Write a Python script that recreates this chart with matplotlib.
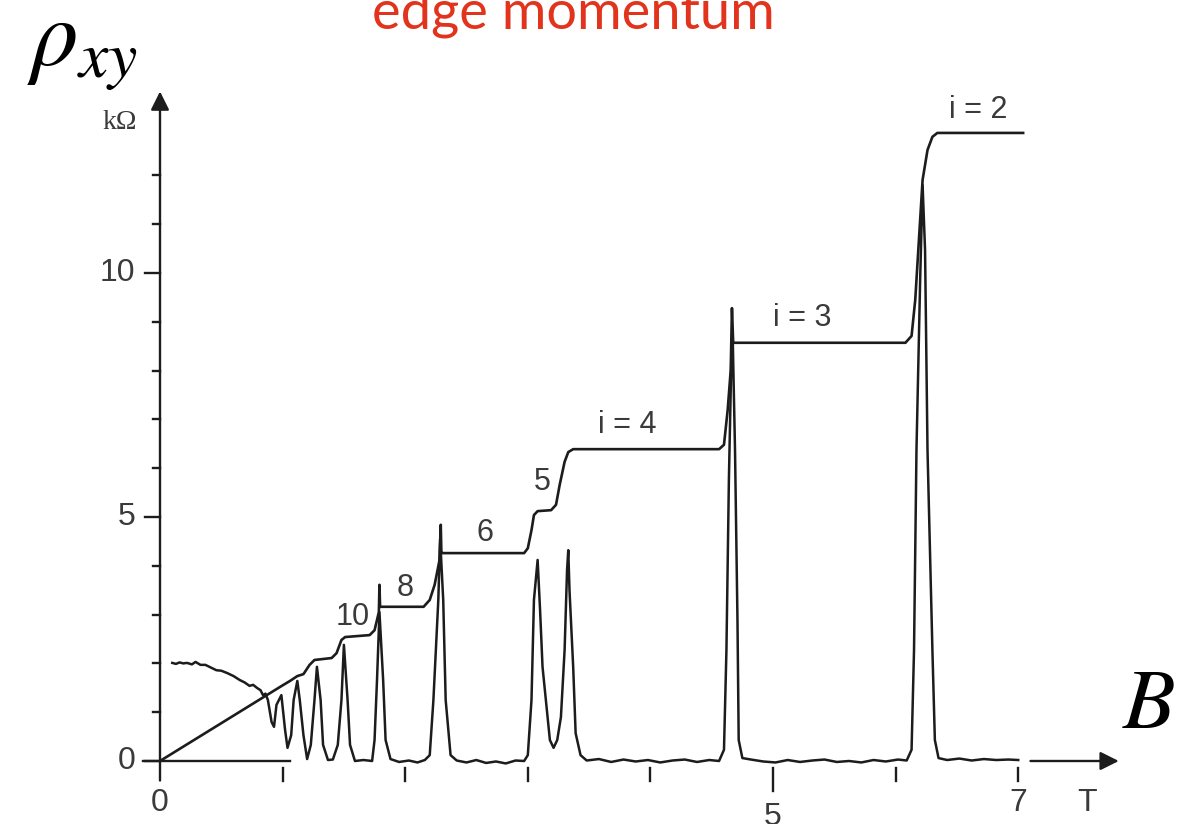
import matplotlib
matplotlib.use("Agg")
import matplotlib.pyplot as plt

# Hall resistivity rho_xy (kOhm) versus field B (T)
hall_B = [0.00, 1.00, 1.06, 1.12, 1.17, 1.22, 1.26, 1.40, 1.44, 1.48,
          1.51, 1.71, 1.75, 1.785, 1.79, 1.795, 1.82, 2.15, 2.20, 2.24,
          2.28, 2.29, 2.295, 2.30, 2.97, 3.00, 3.03, 3.05, 3.08, 3.19,
          3.23, 3.26, 3.30, 3.33, 3.37, 4.56, 4.60, 4.63, 4.655, 4.665,
          4.675, 4.69, 6.08, 6.13, 6.16, 6.19, 6.22, 6.26, 6.30, 6.34,
          7.04]
hall_R = [0.00, 1.55, 1.64, 1.74, 1.78, 1.97, 2.07, 2.11, 2.21, 2.48,
          2.54, 2.58, 2.68, 3.05, 3.61, 3.16, 3.16, 3.16, 3.30, 3.61,
          4.12, 4.84, 4.26, 4.26, 4.26, 4.36, 4.73, 5.04, 5.12, 5.14,
          5.25, 5.66, 6.13, 6.33, 6.39, 6.39, 6.48, 7.19, 8.01, 9.28,
          8.57, 8.57, 8.57, 8.71, 9.45, 10.68, 11.91, 12.52, 12.79, 12.87,
          12.87]

# Longitudinal resistivity rho_xx (kOhm) versus field B (T)
rxx_B = [0.10, 0.13, 0.16, 0.19, 0.22, 0.26, 0.29, 0.33, 0.37, 0.41,
         0.46, 0.50, 0.55, 0.60, 0.65, 0.69, 0.73, 0.76, 0.79, 0.82,
         0.84, 0.86, 0.88, 0.91, 0.93, 0.95, 0.99, 1.02, 1.04, 1.07,
         1.09, 1.12, 1.14, 1.17, 1.20, 1.23, 1.26, 1.28, 1.31, 1.33,
         1.37, 1.41, 1.45, 1.48, 1.50, 1.53, 1.55, 1.59, 1.66, 1.73,
         1.75, 1.77, 1.79, 1.82, 1.84, 1.88, 1.95, 2.03, 2.10, 2.16,
         2.20, 2.23, 2.27, 2.285, 2.31, 2.33, 2.37, 2.42, 2.50, 2.58,
         2.66, 2.74, 2.82, 2.90, 2.97, 3.00, 3.03, 3.05, 3.08, 3.10,
         3.12, 3.16, 3.18, 3.21, 3.24, 3.27, 3.30, 3.32, 3.33, 3.34,
         3.37, 3.39, 3.43, 3.48, 3.58, 3.68, 3.78, 3.88, 3.98, 4.08,
         4.18, 4.28, 4.38, 4.48, 4.56, 4.60, 4.62, 4.64, 4.66, 4.67,
         4.69, 4.71, 4.72, 4.75, 4.82, 4.92, 5.02, 5.12, 5.22, 5.32,
         5.42, 5.52, 5.62, 5.72, 5.82, 5.92, 6.02, 6.09, 6.13, 6.15,
         6.17, 6.20, 6.22, 6.24, 6.26, 6.30, 6.32, 6.35, 6.42, 6.52,
         6.62, 6.72, 6.82, 6.92, 7.00]
rxx_R = [2.01, 1.99, 2.02, 2.00, 2.01, 1.98, 2.03, 1.97, 1.97, 1.92,
         1.86, 1.85, 1.80, 1.74, 1.66, 1.61, 1.54, 1.56, 1.50, 1.45,
         1.35, 1.38, 1.25, 0.80, 0.70, 1.15, 1.35, 0.64, 0.27, 0.53,
         1.25, 1.64, 1.25, 0.53, 0.04, 0.33, 1.25, 1.93, 1.25, 0.33,
         0.02, 0.03, 0.33, 1.25, 2.38, 1.25, 0.33, 0.00, 0.02, 0.00,
         0.43, 1.66, 3.05, 1.66, 0.43, 0.04, -0.02, 0.01, -0.03, 0.02,
         0.12, 1.25, 3.30, 4.55, 3.30, 1.25, 0.12, 0.01, -0.03, 0.02,
         -0.04, -0.01, -0.05, 0.01, 0.00, 0.12, 1.25, 3.30, 4.12, 3.09,
         1.93, 0.94, 0.43, 0.27, 0.43, 0.90, 2.27, 3.91, 4.32, 3.50,
         1.93, 0.57, 0.12, 0.01, 0.04, -0.02, 0.03, -0.01, 0.02, -0.03,
         0.01, 0.03, -0.02, 0.02, 0.00, 0.23, 2.27, 5.76, 8.22, 8.83,
         6.37, 2.89, 0.43, 0.06, 0.03, -0.01, -0.03, 0.02, -0.02, 0.01,
         0.03, -0.02, 0.00, -0.03, 0.02, -0.01, 0.03, 0.01, 0.23, 2.27,
         6.37, 9.86, 11.80, 10.47, 6.37, 2.27, 0.43, 0.06, 0.02, 0.05,
         0.01, 0.04, 0.02, 0.03, 0.02]

# Axis ticks
y_ticks = [0, 1, 2, 3, 4, 5, 6, 7, 8, 9, 10, 11, 12]
y_labels = {0: "0", 5: "5", 10: "10"}
x_ticks = [1, 2, 3, 4, 5, 6, 7]
x_labels = {0: "0", 5: "5", 7: "7"}

# Plateau labels: (text, B, rho)
plateau_text = ["10", "8", "6", "5", "i = 4", "i = 3", "i = 2"]
plateau_B = [1.57, 2.00, 2.65, 3.12, 3.81, 5.24, 6.67]
plateau_R = [2.95, 3.55, 4.67, 5.72, 6.89, 9.08, 13.34]

INK = "#1c1c1c"
GREY = "#3a3a3a"

fig = plt.figure(figsize=(12.03, 8.24), dpi=100)
ax = fig.add_axes([0, 0, 1, 1])
ax.set_xlim(-1.305, 8.507)
ax.set_ylim(-1.291, 15.594)
ax.axis("off")

# curves
ax.plot(rxx_B, rxx_R, color=INK, lw=1.8, solid_joinstyle="round")
ax.plot(hall_B, hall_R, color=INK, lw=1.9, solid_joinstyle="round")

# vertical axis with arrow
ax.annotate("", xy=(0, 13.72), xytext=(0, -0.40),
            arrowprops=dict(arrowstyle="-|>", color=INK, lw=1.7,
                            mutation_scale=28, shrinkA=0, shrinkB=0))
for t in y_ticks:
    length = 0.125 if t in y_labels else 0.06
    ax.plot([-length, 0], [t, t], color=INK, lw=1.7)
for t, s in y_labels.items():
    ax.text(-0.20, t, s, ha="right", va="center", fontsize=23,
            family="Liberation Sans", color=GREY)
ax.text(-0.33, 13.09, "kΩ", ha="center", va="center", fontsize=20,
        family="Liberation Serif", color=GREY)

# horizontal axis: short base line and arrow at the far end
ax.plot([-0.14, 1.06], [0, 0], color=INK, lw=1.7)
ax.annotate("", xy=(7.82, 0), xytext=(7.10, 0),
            arrowprops=dict(arrowstyle="-|>", color=INK, lw=1.7,
                            mutation_scale=28, shrinkA=0, shrinkB=0))
for t in x_ticks:
    low = -0.62 if t == 5 else -0.42
    ax.plot([t, t], [-0.14, low], color=INK, lw=1.7)
for t, s in x_labels.items():
    yy = -1.15 if t == 5 else -0.86
    ax.text(t, yy, s, ha="center", va="center", fontsize=23,
            family="Liberation Sans", color=GREY)
ax.text(7.56, -0.86, "T", ha="center", va="center", fontsize=23,
        family="Liberation Sans", color=GREY)

for s, b, r in zip(plateau_text, plateau_B, plateau_R):
    ax.text(b, r, s, ha="center", va="center", fontsize=22,
            family="Liberation Sans", color=GREY)

# headline and symbols
fig.text(573 / 1203, 1 - 28 / 824, "edge momentum", ha="center",
         va="baseline", fontsize=39, family="Lato", color="#e2341d")
fig.text(27 / 1203, 1 - 64 / 824, r"$\rho_{xy}$", ha="left", va="baseline",
         fontsize=68, math_fontfamily="stix", color="black")
fig.text(1122 / 1203, 1 - 728 / 824, r"$B$", ha="left", va="baseline",
         fontsize=62, math_fontfamily="stix", color="black")

fig.savefig("out.png", dpi=100, facecolor="white")
